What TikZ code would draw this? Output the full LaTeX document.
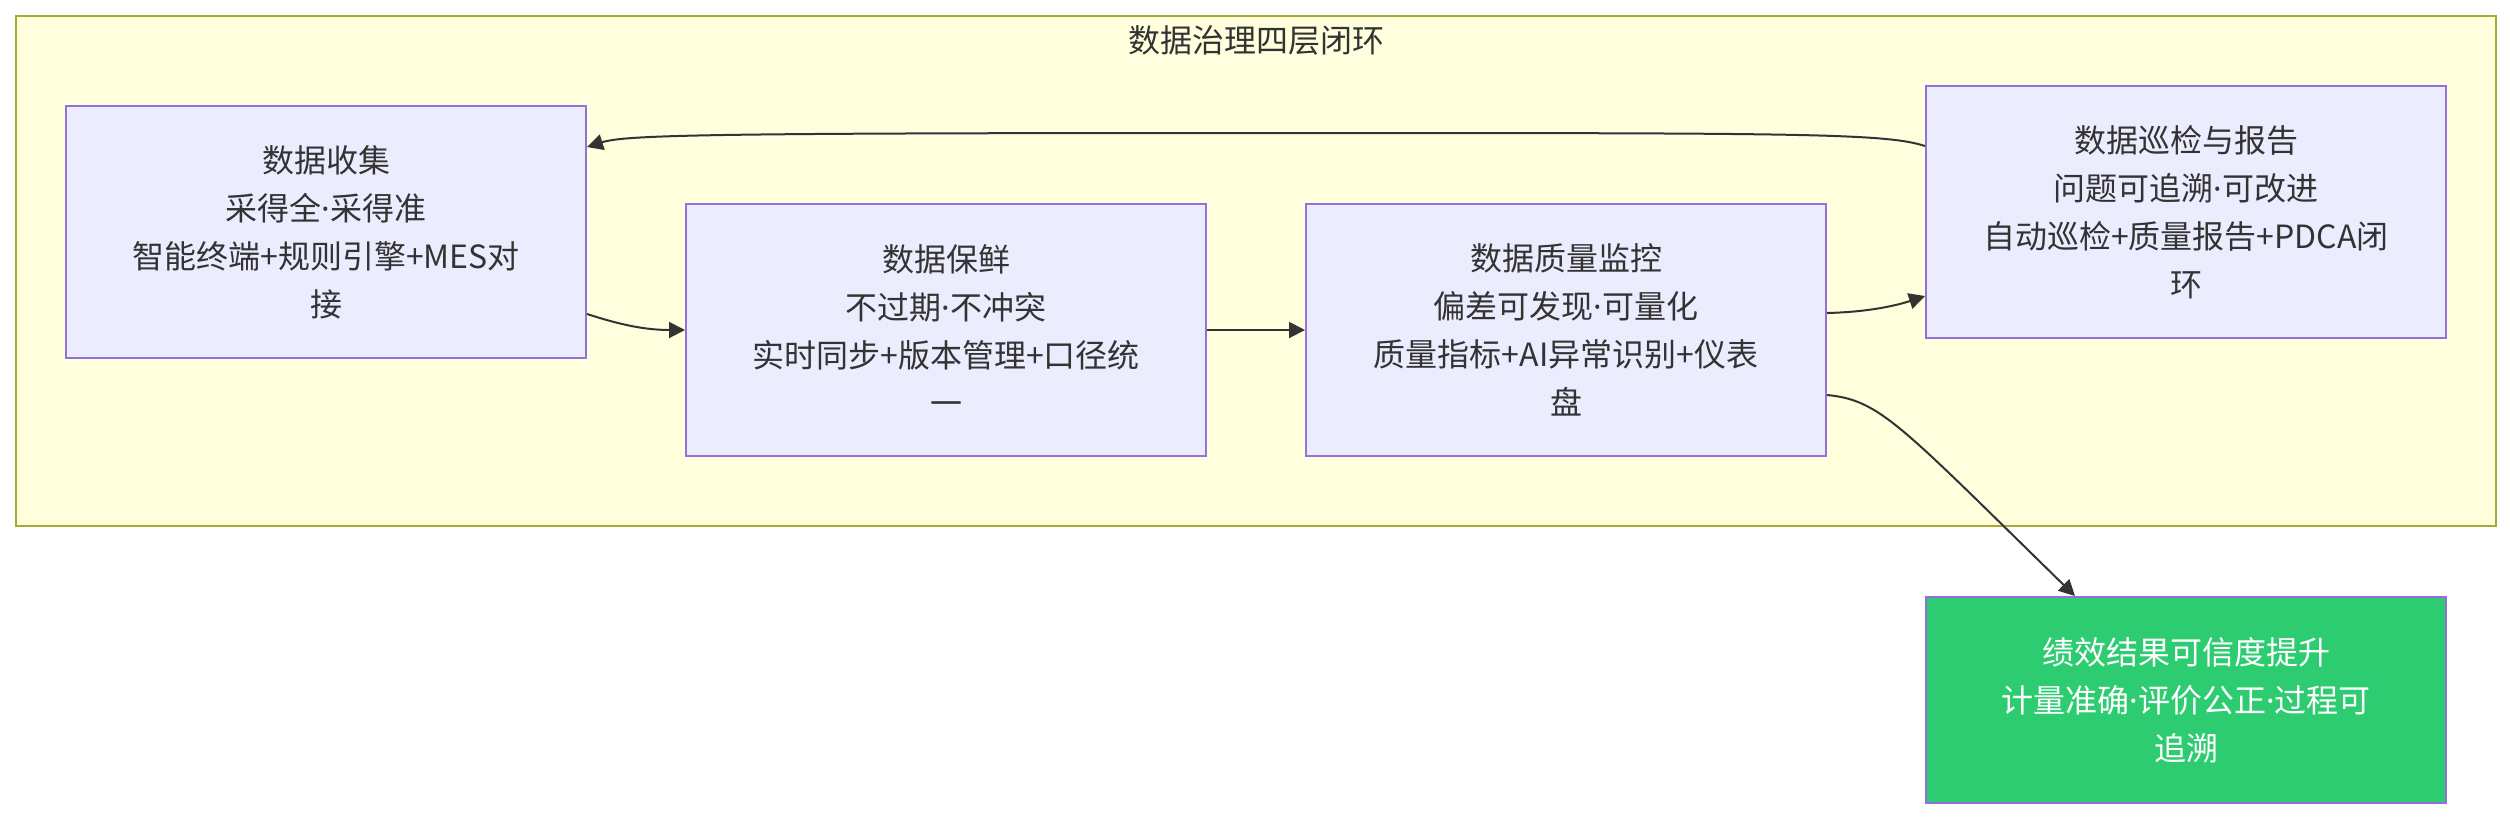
\documentclass[tikz,border=0pt]{standalone}
\usepackage{fontspec}
\setmainfont{Noto Sans CJK SC}
\newfontfamily\dotfont{Noto Sans}
\newcommand\mydot{{\dotfont ·}}
\usetikzlibrary{arrows.meta,calc}
\definecolor{clfill}{HTML}{FFFFDE}
\definecolor{clline}{HTML}{AAAA33}
\definecolor{nfill}{HTML}{ECECFF}
\definecolor{nline}{HTML}{9370DB}
\definecolor{gfill}{HTML}{2ECC71}
\definecolor{txt}{HTML}{333333}
\definecolor{edgec}{HTML}{333333}
\tikzset{
  box/.style={draw=nline, line width=1pt, fill=nfill, minimum width=260pt, minimum height=126pt,
    inner sep=0pt, align=center, text=txt, font=\fontsize{16pt}{24pt}\selectfont},
  resbox/.style={box, fill=gfill, text=white, minimum height=103pt},
  edge/.style={draw=edgec, line width=1pt, -{Triangle[length=8pt,width=8pt]}},
  cluster/.style={draw=clline, fill=clfill, line width=1pt}
}
\begin{document}
\begin{tikzpicture}[x=0.5pt,y=-0.5pt]
\useasboundingbox (0,0) rectangle (2512,816);
\draw[cluster] (16,16) rectangle (2496,526);
\node[text=txt, font=\fontsize{16pt}{24pt}\selectfont] (title) at (1256,40) {数据治理四层闭环};
\node[box] (b1) at (326,232) {数据收集\\采得全\mydot 采得准\\智能终端+规则引擎+MES对\\接};
\node[box] (b2) at (946,330) {数据保鲜\\不过期\mydot 不冲突\\实时同步+版本管理+口径统\\一};
\node[box] (b3) at (1566,330) {数据质量监控\\偏差可发现\mydot 可量化\\质量指标+AI异常识别+仪表\\盘};
\node[box] (b4) at (2186,212) {数据巡检与报告\\问题可追溯\mydot 可改进\\自动巡检+质量报告+PDCA闭\\环};
\node[resbox] (b5) at (2186,700) {绩效结果可信度提升\\计量准确\mydot 评价公正\mydot 过程可\\追溯};
\draw[edge] ($(b1.east)+(0,82)$) .. controls (612,322) and (640,330) .. (b2.west);
\draw[edge] (b2.east) -- (b3.west);
\draw[edge] ($(b3.east)+(0,-17)$) .. controls (1870,312) and (1898,305) .. ($(b4.west)+(0,84)$);
\draw[edge] ($(b4.west)+(0,-66)$) .. controls (1885,133) and (1800,133) .. (1256,133)
  .. controls (700,133) and (625,135) .. ($(b1.east)+(0,-85)$);
\draw[edge] ($(b3.east)+(0,65)$) .. controls (1880,400) and (1900,425) .. ($(b5.north)+(-111,0)$);
\end{tikzpicture}
\end{document}
